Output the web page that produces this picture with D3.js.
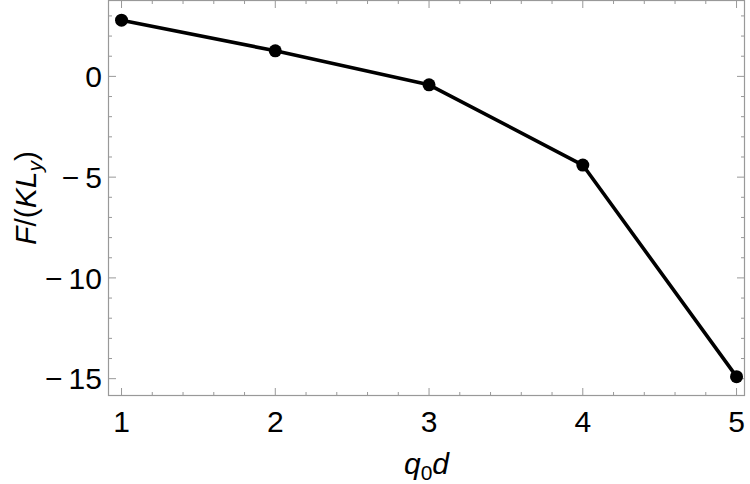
<!DOCTYPE html>
<html>
<head>
<meta charset="utf-8">
<script src="https://cdn.jsdelivr.net/npm/d3@7"></script>
<style>
  body { margin: 0; background: #fff; }
  svg text { font-family: "Liberation Sans", Arial, sans-serif; }
</style>
</head>
<body>
<svg id="chart" width="750" height="484"></svg>
<script>
// values
var xValues = [1, 2, 3, 4, 5];
var yValues = [2.79, 1.27, -0.42, -4.4, -14.9];
var xTicks = [1, 2, 3, 4, 5];
var yTicks = [0, -5, -10, -15];

var margin = { top: 0, right: 5, bottom: 88, left: 108 };

var svg = d3.select("svg#chart");
var width = +svg.attr("width") - margin.left - margin.right;
var height = +svg.attr("height") - margin.top - margin.bottom;

var x = d3.scaleLinear().domain([0.912, 5.055]).range([0, width]);
var y = d3.scaleLinear().domain([-15.86, 3.79]).range([height, 0]);

var frameColor = "#999";

var g = svg.append("g")
  .attr("transform", "translate(" + margin.left + "," + margin.top + ")");

// minor + major tick values
var xMinor = d3.range(1, 5.0001, 0.2).filter(function (v) { return Math.abs(v - Math.round(v)) > 1e-6; });
var yMinor = d3.range(-15, 3.5, 1).filter(function (v) { return v % 5 !== 0; });

function drawTicks(vals, len, axis) {
  vals.forEach(function (v) {
    if (axis === "x") {
      g.append("line").attr("x1", x(v)).attr("x2", x(v)).attr("y1", height).attr("y2", height - len)
        .attr("stroke", frameColor).attr("stroke-width", 1);
      g.append("line").attr("x1", x(v)).attr("x2", x(v)).attr("y1", 0).attr("y2", len)
        .attr("stroke", frameColor).attr("stroke-width", 1);
    } else {
      g.append("line").attr("y1", y(v)).attr("y2", y(v)).attr("x1", 0).attr("x2", len)
        .attr("stroke", frameColor).attr("stroke-width", 1);
      g.append("line").attr("y1", y(v)).attr("y2", y(v)).attr("x1", width).attr("x2", width - len)
        .attr("stroke", frameColor).attr("stroke-width", 1);
    }
  });
}

drawTicks(xTicks, 8, "x");
drawTicks(xMinor, 4, "x");
drawTicks(yTicks, 8, "y");
drawTicks(yMinor, 4, "y");

// frame
g.append("rect")
  .attr("x", 0.5).attr("y", 0.5)
  .attr("width", width - 1).attr("height", height - 1)
  .attr("fill", "none")
  .attr("stroke", frameColor)
  .attr("stroke-width", 1.2);

// tick labels
g.selectAll("text.xt")
  .data(xTicks)
  .enter().append("text")
  .attr("class", "xt")
  .attr("x", function (d) { return x(d); })
  .attr("y", height + 36)
  .attr("text-anchor", "middle")
  .style("font-size", "30px")
  .text(function (d) { return d; });

g.selectAll("text.yt")
  .data(yTicks)
  .enter().append("text")
  .attr("class", "yt")
  .attr("x", -6)
  .attr("y", function (d) { return y(d); })
  .attr("dy", "0.36em")
  .attr("text-anchor", "end")
  .style("font-size", "30px")
  .text(function (d) { return d < 0 ? "\u2212\u2009" + Math.abs(d) : d; });

// data line
var pts = xValues.map(function (v, i) { return [v, yValues[i]]; });

var line = d3.line()
  .x(function (d) { return x(d[0]); })
  .y(function (d) { return y(d[1]); });

g.append("path")
  .datum(pts)
  .attr("d", line)
  .attr("fill", "none")
  .attr("stroke", "#000")
  .attr("stroke-width", 3.6)
  .attr("stroke-linejoin", "round");

g.selectAll("circle")
  .data(pts)
  .enter().append("circle")
  .attr("cx", function (d) { return x(d[0]); })
  .attr("cy", function (d) { return y(d[1]); })
  .attr("r", 6.5)
  .attr("fill", "#000");

// axis labels
var xl = svg.append("text")
  .attr("x", margin.left + width / 2)
  .attr("y", 474)
  .attr("text-anchor", "middle")
  .style("font-size", "30px");
xl.append("tspan").style("font-style", "italic").text("q");
xl.append("tspan").attr("dy", 6).style("font-size", "21px").text("0");
xl.append("tspan").attr("dy", -6).style("font-style", "italic").text("d");

var yl = svg.append("text")
  .attr("transform", "translate(36," + (margin.top + height / 2) + ") rotate(-90)")
  .attr("text-anchor", "middle")
  .style("font-size", "30px");
yl.append("tspan").style("font-style", "italic").text("F");
yl.append("tspan").text("/(");
yl.append("tspan").style("font-style", "italic").text("KL");
yl.append("tspan").attr("dy", 6).style("font-size", "21px").style("font-style", "italic").text("y");
yl.append("tspan").attr("dy", -6).text(")");
</script>
</body>
</html>
